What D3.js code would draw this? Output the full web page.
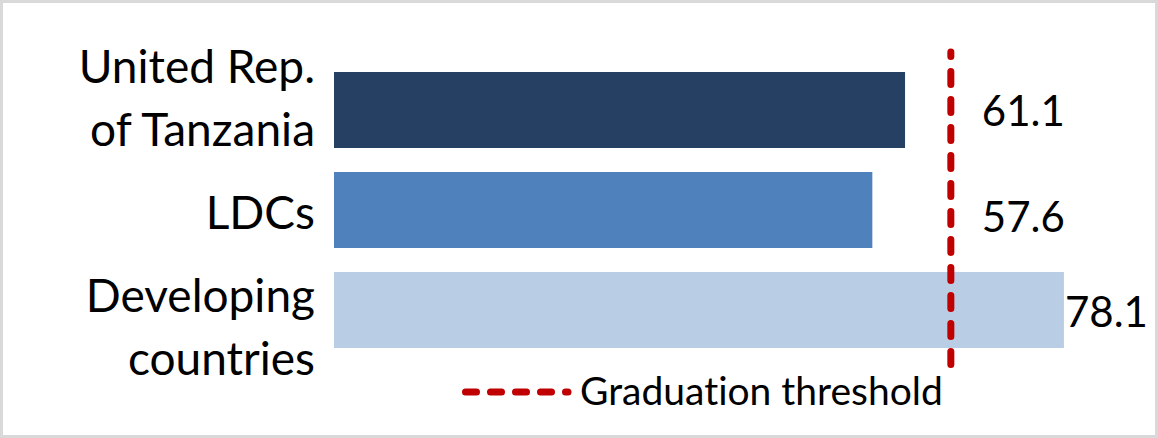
<!DOCTYPE html>
<html lang="en">
<head>
<meta charset="utf-8">
<title>Human assets index</title>
<script src="https://d3js.org/d3.v7.min.js"></script>
<style>
  html, body { margin: 0; padding: 0; background: #fff; }
  svg { display: block; font-family: Lato, "Noto Sans", sans-serif; font-variant-ligatures: none; }
</style>
</head>
<body>
<div id="chart"></div>
<script>
// Data
const categories = [["United Rep.", "of Tanzania"], ["LDCs"], ["Developing", "countries"]];
const values = [61.1, 57.6, 78.1];
const threshold = 66;
const legendLabel = "Graduation threshold";

const colors = ["#264063", "#4f81bd", "#b9cde5"];
const red = "#c00000";

// Dimensions
const width = 1158;
const height = 438;

// label nudges (first baseline relative to bar middle), as in the original
const catDy = [-27, 19, 2];
const valDy = [16, 22, 17];

const svg = d3.select("#chart")
  .append("svg")
  .attr("width", width)
  .attr("height", height);

// Frame
svg.append("rect")
  .attr("x", 1.5).attr("y", 1.5)
  .attr("width", width - 3).attr("height", height - 3)
  .style("fill", "#fff")
  .style("stroke", "#d9d9d9")
  .style("stroke-width", 3);

// Scales
const x = d3.scaleLinear()
  .domain([0, 100])
  .range([334, 1268.6]);

const y = d3.scaleBand()
  .domain(d3.range(values.length))
  .range([60, 360])
  .paddingInner(0.24)
  .paddingOuter(0.12);

// Bars
svg.selectAll(".bar")
  .data(values)
  .enter().append("rect")
  .attr("class", "bar")
  .attr("x", x(0))
  .attr("y", (d, i) => y(i))
  .attr("width", d => x(d) - x(0))
  .attr("height", y.bandwidth())
  .style("fill", (d, i) => colors[i]);

// Category labels
svg.selectAll(".cat")
  .data(categories)
  .enter().append("text")
  .attr("class", "cat")
  .attr("text-anchor", "end")
  .style("font-size", "46px")
  .style("fill", "#000")
  .each(function (lines, i) {
    const t = d3.select(this);
    const mid = y(i) + y.bandwidth() / 2;
    lines.forEach((l, j) => {
      t.append("tspan")
        .attr("x", x(0) - 19)
        .attr("y", mid + catDy[i] + j * 63)
        .text(l);
    });
  });

// Threshold line (drawn bottom-up like the original)
svg.append("line")
  .attr("x1", x(threshold)).attr("x2", x(threshold))
  .attr("y1", 364.5).attr("y2", 52)
  .style("stroke", red)
  .style("stroke-width", 7)
  .style("stroke-linecap", "round")
  .style("stroke-dasharray", "13,15");

// Value labels
svg.selectAll(".val")
  .data(values)
  .enter().append("text")
  .attr("class", "val")
  .attr("x", d => d < threshold ? x(threshold) + 31 : x(d) + 1)
  .attr("y", (d, i) => y(i) + y.bandwidth() / 2 + valDy[i])
  .style("font-size", "42px")
  .style("fill", "#000")
  .text(d => d.toFixed(1));

// Legend
const legend = svg.append("g")
  .attr("transform", "translate(0, 392)");

legend.append("line")
  .attr("x1", 465.5).attr("x2", 568)
  .style("stroke", red)
  .style("stroke-width", 7)
  .style("stroke-linecap", "round")
  .style("stroke-dasharray", "11,14");

legend.append("text")
  .attr("x", 580)
  .attr("y", 13)
  .style("font-size", "39px")
  .style("fill", "#000")
  .text(legendLabel);
</script>
</body>
</html>
